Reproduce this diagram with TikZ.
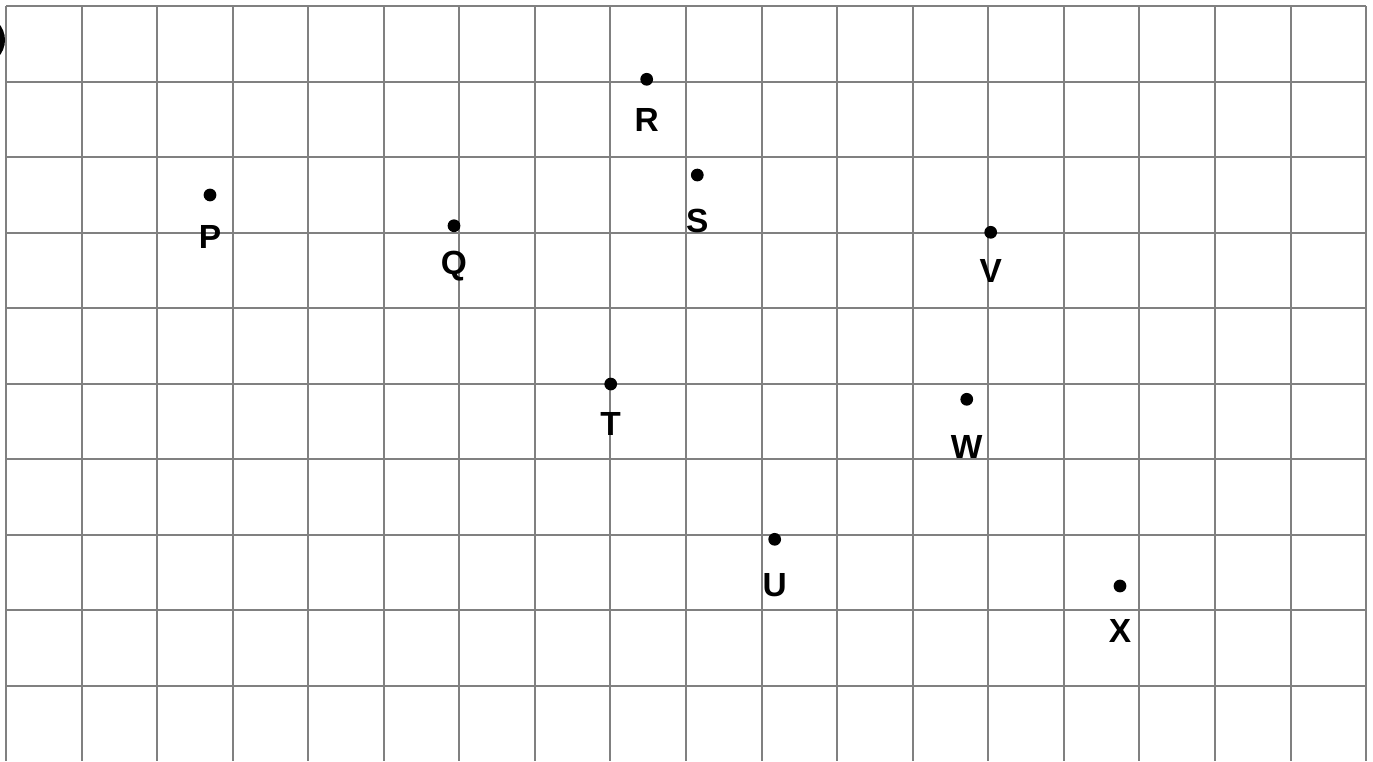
\documentclass[tikz,border=0pt]{standalone}
\usepackage{fontspec}
\setmainfont{Liberation Sans}
\usepackage{tikz}
\usetikzlibrary{calc}

\begin{document}
\begin{tikzpicture}[x=1cm, y=1cm,
  dot/.style={circle, fill=black, inner sep=0pt, minimum size=4.8pt},
  lbl/.style={font=\bfseries\fontsize{12.6}{14}\selectfont, inner sep=0pt}]
  \useasboundingbox (-0.0794,0.0794) rectangle (18.0916,-9.992);
  \draw[gray, line width=0.75pt] (0,0) grid (18,-9.99);
  \fill[black] (-0.344,-0.45) circle (0.331);
  % points
  \node[dot] (P) at (2.700,-2.501){};
  \node[dot] (Q) at (5.929,-2.908){};
  \node[dot] (R) at (8.479,-0.970){};
  \node[dot] (S) at (9.149,-2.237){};
  \node[dot] (T) at (8.003,-5.003){};
  \node[dot] (U) at (10.173,-7.058){};
  \node[dot] (V) at (13.032,-2.995){};
  \node[dot] (W) at (12.715,-5.205){};
  \node[dot] (X) at (14.743,-7.676){};
  % names
  \node[lbl] (Pname) at ($(P)+(0,-0.552)$){P};
  \node[lbl] (Qname) at ($(Q)+(0,-0.540)$){Q};
  \node[lbl] (Rname) at ($(R)+(0,-0.539)$){R};
  \node[lbl] (Sname) at ($(S)+(0,-0.605)$){S};
  \node[lbl] (Tname) at ($(T)+(0,-0.529)$){T};
  \node[lbl] (Uname) at ($(U)+(0,-0.605)$){U};
  \node[lbl] (Vname) at ($(V)+(0,-0.512)$){V};
  \node[lbl] (Wname) at ($(W)+(0,-0.626)$){W};
  \node[lbl] (Xname) at ($(X)+(0,-0.592)$){X};
\end{tikzpicture}
\end{document}
